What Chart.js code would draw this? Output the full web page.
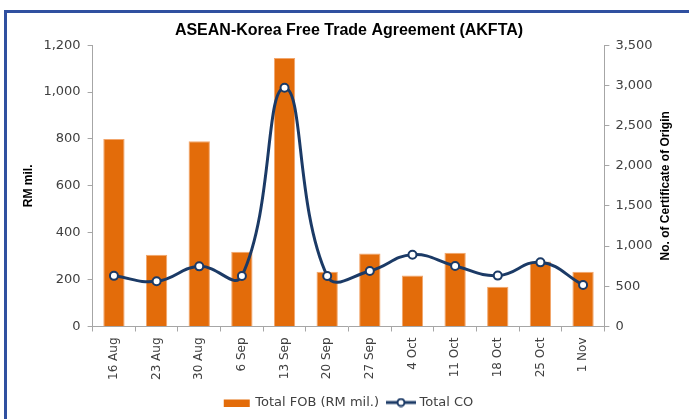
<!DOCTYPE html>
<html>
<head>
<meta charset="utf-8">
<script src="https://cdn.jsdelivr.net/npm/chart.js@4/dist/chart.umd.min.js"></script>
<style>
  body { margin: 0; background: #fff; overflow: hidden; }
  #wrap { position: relative; width: 689px; height: 419px; }
  #frame {
    position: absolute; left: 4px; top: 10px; width: 700px; height: 420px;
    border-left: 3px solid #3050a0; border-top: 3px solid #3050a0;
  }
  canvas { position: absolute; left: 0; top: 0; }
</style>
</head>
<body>
<div id="wrap">
  <div id="frame"></div>
  <canvas id="akfta"></canvas>
</div>
<script>
const categories = ['16 Aug', '23 Aug', '30 Aug', '6 Sep', '13 Sep', '20 Sep',
                    '27 Sep', '4 Oct', '11 Oct', '18 Oct', '25 Oct', '1 Nov'];
const totalFob = [800, 306, 790, 319, 1145, 234, 311, 217, 315, 170, 277, 234];
const totalCo = [630, 562, 748, 629, 2970, 629, 691, 893, 753, 633, 798, 517];
const fobTicks = { max: 1200, step: 200 };
const coTicks = { max: 3500, step: 500 };

const orange = '#e36c0a';
const navy = '#1b3a66';
const grey = '#a6a6a6';
const textColor = '#404040';

// little legend icons
function barIcon() {
  const c = document.createElement('canvas');
  c.width = 30; c.height = 8;
  const g = c.getContext('2d');
  g.fillStyle = orange;
  g.fillRect(2, 1, 26, 7);
  return c;
}
function lineIcon() {
  const c = document.createElement('canvas');
  c.width = 30; c.height = 10;
  const g = c.getContext('2d');
  g.strokeStyle = navy;
  g.lineWidth = 3;
  g.beginPath(); g.moveTo(0, 5); g.lineTo(30, 5); g.stroke();
  g.beginPath(); g.arc(15, 5, 3.5, 0, Math.PI * 2);
  g.fillStyle = '#fff'; g.fill();
  g.lineWidth = 2; g.stroke();
  return c;
}

const rightTitle = {
  id: 'rightTitle',
  afterDraw(chart) {
    const s = chart.scales.y1;
    const ctx = chart.ctx;
    ctx.save();
    ctx.translate(s.right - 15, (s.top + s.bottom) / 2);
    ctx.rotate(-Math.PI / 2);
    ctx.font = 'bold 12px "Liberation Sans"';
    ctx.fillStyle = '#000';
    ctx.textAlign = 'center';
    ctx.textBaseline = 'middle';
    ctx.fillText('No. of Certificate of Origin', 0, 0);
    ctx.restore();
  }
};

new Chart(document.getElementById('akfta'), {
  data: {
    labels: categories,
    datasets: [
      {
        type: 'bar',
        label: 'Total FOB (RM mil.)',
        data: totalFob,
        backgroundColor: orange,
        borderColor: '#f2a66c',
        borderWidth: 1,
        categoryPercentage: 1,
        barPercentage: 0.5,
        yAxisID: 'y',
        order: 2
      },
      {
        type: 'line',
        label: 'Total CO',
        data: totalCo,
        borderColor: navy,
        borderWidth: 3,
        tension: 0.45,
        pointRadius: 4,
        pointBorderWidth: 2,
        pointBackgroundColor: '#fff',
        pointBorderColor: navy,
        yAxisID: 'y1',
        order: 1
      }
    ]
  },
  options: {
    responsive: true,
    maintainAspectRatio: false,
    animation: false,
    layout: { padding: { left: 17, right: 8, top: 2, bottom: 0 } },
    plugins: {
      title: {
        display: true,
        text: 'ASEAN-Korea Free Trade Agreement (AKFTA)',
        color: '#000',
        font: { family: 'Liberation Sans', size: 16, weight: 'bold' },
        padding: { top: 19, bottom: 5 }
      },
      legend: {
        position: 'bottom',
        labels: {
          usePointStyle: true,
          pointStyleWidth: 24,
          color: textColor,
          font: { family: 'DejaVu Sans', size: 13 },
          padding: 10,
          generateLabels: () => [
            { text: 'Total FOB (RM mil.)', pointStyle: barIcon(), datasetIndex: 0, fontColor: textColor, lineWidth: 0 },
            { text: 'Total CO', pointStyle: lineIcon(), datasetIndex: 1, fontColor: textColor, lineWidth: 0 }
          ]
        }
      },
      tooltip: { enabled: false }
    },
    scales: {
      x: {
        offset: true,
        grid: { display: true, drawOnChartArea: false, drawTicks: true, tickLength: 5, offset: true, color: grey },
        border: { color: grey, width: 1 },
        ticks: {
          minRotation: 90, maxRotation: 90, padding: 6,
          color: textColor, font: { family: 'DejaVu Sans', size: 12 }
        }
      },
      y: {
        position: 'left',
        min: 0, max: fobTicks.max,
        grid: { drawOnChartArea: false, drawTicks: true, tickLength: 5, color: grey },
        border: { color: grey, width: 1 },
        ticks: {
          stepSize: fobTicks.step, padding: 7,
          color: textColor, font: { family: 'DejaVu Sans', size: 13 }
        },
        title: {
          display: true, text: 'RM mil.', color: '#000',
          font: { family: 'Liberation Sans', size: 12, weight: 'bold' },
          padding: { top: 4, bottom: 1 }
        }
      },
      y1: {
        position: 'right',
        min: 0, max: coTicks.max,
        grid: { drawOnChartArea: false, drawTicks: true, tickLength: 5, color: grey },
        border: { color: grey, width: 1 },
        ticks: {
          stepSize: coTicks.step, padding: 6,
          color: textColor, font: { family: 'DejaVu Sans', size: 13 }
        },
        title: {
          display: true, text: 'No. of Certificate of Origin', color: 'rgba(0,0,0,0)',
          font: { family: 'Liberation Sans', size: 12, weight: 'bold' },
          padding: { top: 4, bottom: 4 }
        }
      }
    }
  },
  plugins: [rightTitle]
});
</script>
</body>
</html>
